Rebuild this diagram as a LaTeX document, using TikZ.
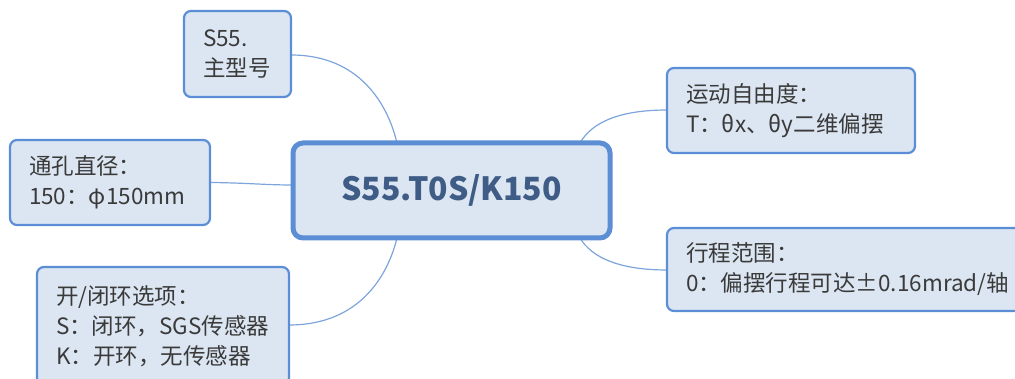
\documentclass[tikz,border=0pt]{standalone}
\usepackage{fontspec}
\setmainfont{Noto Sans CJK SC}
\usetikzlibrary{backgrounds}
\definecolor{boxfill}{HTML}{DCE6F2}
\definecolor{boxdraw}{HTML}{5B8ED5}
\definecolor{linkc}{HTML}{7DA5DB}
\definecolor{txt}{HTML}{3A3A3A}
\definecolor{ctxt}{HTML}{3E5C86}
\begin{document}
\begin{tikzpicture}[x=1pt,y=-1pt,
  topic/.style={draw=boxdraw, fill=boxfill, line width=2.2pt, rounded corners=7pt,
    inner xsep=19pt, inner ysep=0pt, align=left, text=txt,
    font=\fontsize{22.5}{30}\selectfont},
  central/.style={draw=boxdraw, fill=boxfill, line width=5pt, rounded corners=10pt,
    inner sep=0pt, align=center, text=ctxt, font=\bfseries\fontsize{32}{40}\selectfont},
  link/.style={draw=linkc, line width=1.2pt}]
\useasboundingbox (0,0) rectangle (1015,379);
\clip (0,0) rectangle (1015,379);

\node[central, minimum width=317pt, minimum height=95pt] (c) at (451.5,190.5) {S55.T0S/K150};

\node[topic, text width=69pt, minimum height=86pt] (s55) at (237.5,54) {S55.\\主型号};
\node[topic, text width=162pt, minimum height=85pt] (hole) at (110,182.5) {通孔直径：\\150：φ150mm};
\node[topic, text width=214pt, minimum height=118pt] (loop) at (163,326) {开/闭环选项：\\S：闭环，SGS传感器\\K：开环，无传感器};
\node[topic, text width=210pt, minimum height=85pt] (dof) at (791,110.5) {运动自由度：\\T：θx、θy二维偏摆};
\node[topic, text width=319pt, minimum height=83pt] (range) at (845.5,269.5) {行程范围：\\0：偏摆行程可达±0.16mrad/轴};

\coordinate (cT1) at (397,143);
\coordinate (cW) at (293,185);
\coordinate (cB1) at (397,238);
\coordinate (cT2) at (580,143);
\coordinate (cB2) at (580,238);
\coordinate (dofW) at (667,110);
\coordinate (rangeW) at (667,270);
\coordinate (s55E) at (291,55);
\coordinate (loopE) at (289,325);

\begin{scope}[on background layer]
\draw[link] (s55E) .. controls (360,55) and (388,105) .. (cT1);
\draw[link] (hole.east) .. controls (250,183) and (265,185) .. (cW);
\draw[link] (loopE) .. controls (360,325) and (388,275) .. (cB1);
\draw[link] (cT2) .. controls (592,122) and (620,110) .. (dofW);
\draw[link] (cB2) .. controls (592,258) and (620,270) .. (rangeW);
\end{scope}
\end{tikzpicture}
\end{document}
